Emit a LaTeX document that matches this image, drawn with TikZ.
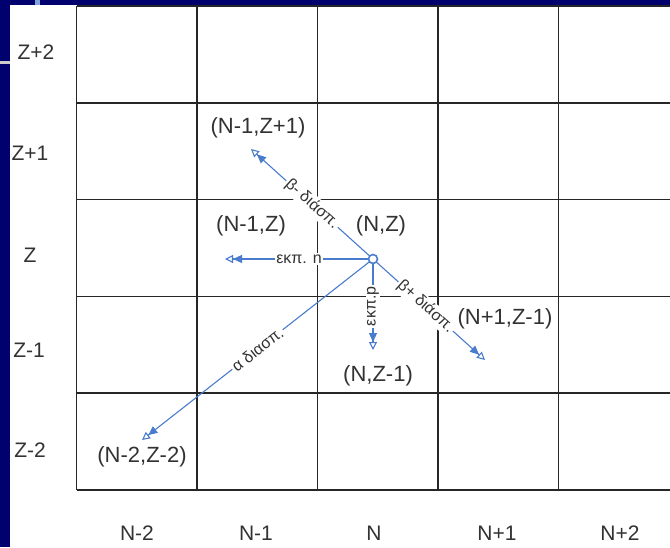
\documentclass[tikz,border=0pt]{standalone}
\usepackage{fontspec}
\setmainfont{Liberation Sans}
\usetikzlibrary{arrows.meta}
\definecolor{navy}{RGB}{0,0,110}
\definecolor{arrblue}{RGB}{74,124,205}
\definecolor{txtgray}{RGB}{50,50,50}
\begin{document}
\begin{tikzpicture}[x=1pt,y=-1pt,
  gridline/.style={line width=1.5pt,black!85},
  coordlbl/.style={font=\fontsize{22}{26}\selectfont,text=txtgray,inner sep=1pt},
  axislbl/.style={font=\fontsize{21}{25}\selectfont,text=txtgray,inner sep=0pt},
  arr/.style={arrblue,line width=1.1pt,-{Triangle[length=9pt,width=8pt] Triangle[open,length=8pt,width=8pt,fill=white]}},
  declbl/.style={font=\fontsize{16}{19}\selectfont,text=txtgray,fill=white,inner sep=1.5pt,pos=0.5},
  centre/.style={circle,draw=arrblue,fill=white,line width=1.6pt,minimum size=9pt,inner sep=0pt}]
\useasboundingbox (0,0) rectangle (670,547);
\fill[white] (0,0) rectangle (670,547);
% slide frame
\fill[navy] (0,0) rectangle (10,547);
\fill[navy] (0,0) rectangle (670,5);
\fill[arrblue!70!white] (35,0) rectangle (40,5);
\fill[gray!40!white] (0,61) rectangle (10,64);
% grid
\foreach \x in {76.5,197,317.5,438,558.5} \draw[gridline] (\x,6) -- (\x,490);
\foreach \y in {6,103,199.5,296.5,393,490} \draw[gridline] (76.5,\y) -- (670,\y);
% row labels
\node[axislbl] (z2) at (36,52) {Z+2};
\node[axislbl] (z1) at (30,153) {Z+1};
\node[axislbl] (z0) at (30,255) {Z};
\node[axislbl] (zm1) at (29,350) {Z-1};
\node[axislbl] (zm2) at (30,450) {Z-2};
% column labels
\node[axislbl] (n2) at (137,533) {N-2};
\node[axislbl] (n1) at (256,533) {N-1};
\node[axislbl] (n0) at (374,533) {N};
\node[axislbl] (np1) at (497,533) {N+1};
\node[axislbl] (np2) at (620,533) {N+2};
% nuclide labels
\node[coordlbl] (lA) at (258,128) {(N-1,Z+1)};
\node[coordlbl] (lB) at (251,226) {(N-1,Z)};
\node[coordlbl] (lC) at (381,226) {(N,Z)};
\node[coordlbl] (lD) at (505,319) {(N+1,Z-1)};
\node[coordlbl] (lE) at (378,376) {(N,Z-1)};
\node[coordlbl] (lF) at (142,457) {(N-2,Z-2)};
% decays
\coordinate (t1) at (251,149);
\coordinate (t2) at (225,259);
\coordinate (t3) at (373,350);
\coordinate (t4) at (485,360);
\coordinate (t5) at (142,440);
\coordinate (c0) at (373,259);
\draw[arr] (c0) -- (t1) node[declbl,sloped] {β- διάσπ.};
\draw[arr] (c0) -- (t2) node[declbl] {εκπ. n};
\draw[arr] (c0) -- (t3) node[declbl,rotate=90,pos=0.52] {εκπ.p};
\draw[arr] (c0) -- (t4) node[declbl,sloped,pos=0.47] {β+ διάσπ.};
\draw[arr] (c0) -- (t5) node[declbl,sloped] {α διασπ.};
\node[centre] (c) at (c0) {};
\end{tikzpicture}
\end{document}
